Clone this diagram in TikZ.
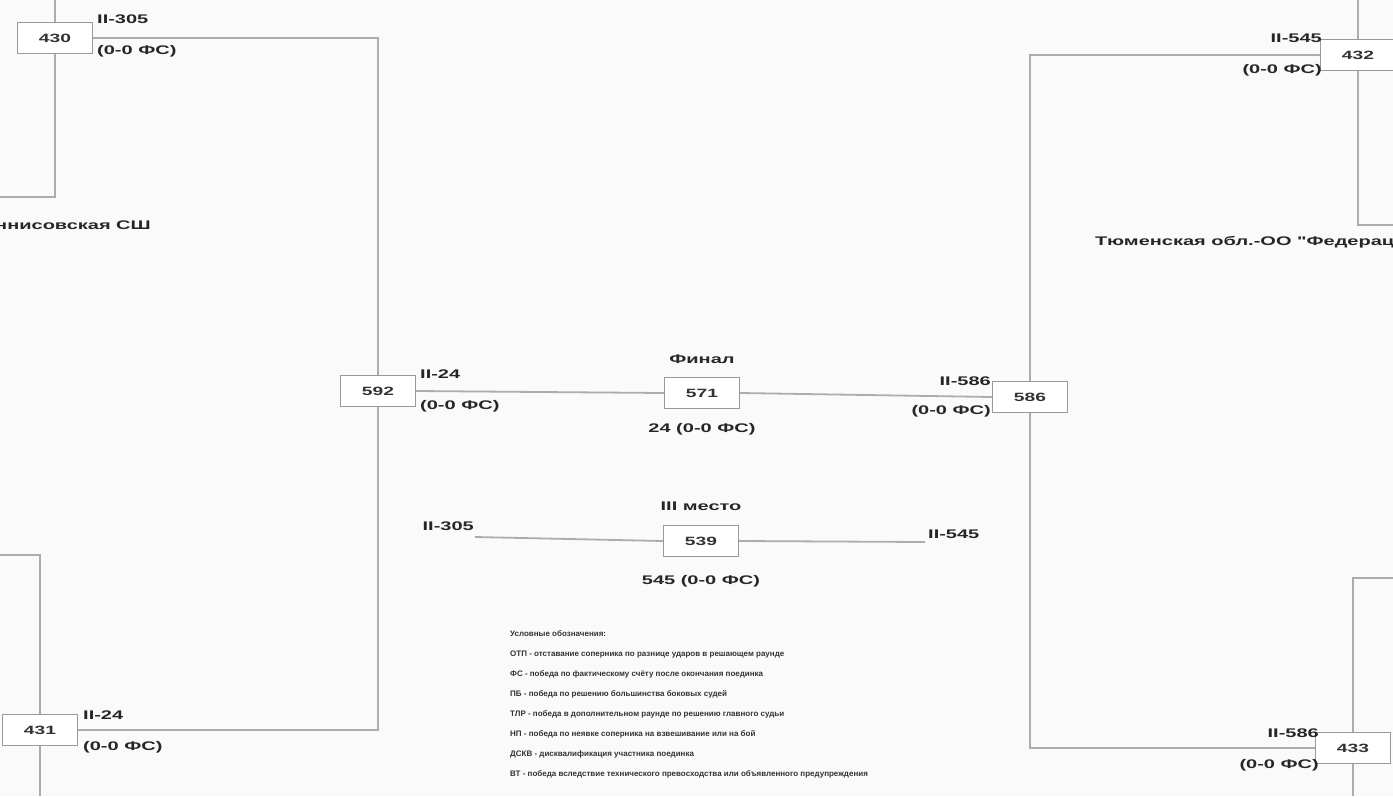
\documentclass[tikz,border=0pt]{standalone}
\usepackage{fontspec}
\setmainfont{Liberation Sans}
\newfontfamily\widefont[FakeStretch=1.6]{Liberation Sans}
\usetikzlibrary{positioning}
\tikzset{box/.style={draw=gray!80,line width=1.2pt,fill=white,minimum width=75pt,
                     minimum height=31pt,inner sep=0pt,font=\widefont\bfseries\fontsize{12}{14}\selectfont,text=black!80},
         wire/.style={draw=gray!65,line width=1.8pt},
         lbl/.style={inner sep=1pt,font=\widefont\bfseries\fontsize{12.5}{14}\selectfont,text=black!85},
         team/.style={inner sep=1pt,font=\widefont\bfseries\fontsize{12.5}{14}\selectfont,text=black!85}}

\begin{document}
\begin{tikzpicture}[x=1pt,y=-1pt]
\fill[gray!4] (0,0) rectangle (1393,796);
\useasboundingbox (0,0) rectangle (1393,796);
% matches
\node[box] (b430) at (55,38) {430};
\node[box] (b431) at (40,730) {431};
\node[box] (b592) at (378,391) {592};
\node[box] (b571) at (702,393) {571};
\node[box] (b539) at (701,541) {539};
\node[box] (b586) at (1030,397) {586};
\node[box] (b432) at (1358,55) {432};
\node[box] (b433) at (1353,748) {433};
% free ends
\coordinate (t430) at (55,0);
\coordinate (k430) at (55,197);
\coordinate (e430) at (0,197);
\coordinate (t431) at (40,555);
\coordinate (e431) at (0,555);
\coordinate (d431) at (40,796);
\coordinate (t432) at (1358,0);
\coordinate (k432) at (1358,225);
\coordinate (e432) at (1393,225);
\coordinate (t433) at (1353,578);
\coordinate (e433) at (1393,578);
\coordinate (d433) at (1353,796);
\coordinate (c305) at (475,537);
\coordinate (c545) at (925,542);
% connectors
\draw[wire] (t430) -- (b430.north);
\draw[wire] (b430.south) -- (k430) -- (e430);
\draw[wire] (e431) -- (t431) -- (b431.north);
\draw[wire] (b431.south) -- (d431);
\draw[wire] (t432) -- (b432.north);
\draw[wire] (b432.south) -- (k432) -- (e432);
\draw[wire] (e433) -- (t433) -- (b433.north);
\draw[wire] (b433.south) -- (d433);
\draw[wire] (b430.east) -| (b592.north);
\draw[wire] (b431.east) -| (b592.south);
\draw[wire] (b432.west) -| (b586.north);
\draw[wire] (b433.west) -| (b586.south);
\draw[wire] (b592.east) -- (b571.west);
\draw[wire] (b571.east) -- (b586.west);
\draw[wire] (c305) -- (b539.west);
\draw[wire] (b539.east) -- (c545);
% redraw boxes on top
\foreach \b/\t in {b430/430,b431/431,b592/592,b571/571,b539/539,b586/586,b432/432,b433/433}
  \node[box] at (\b) {\t};
% results
\node[lbl,anchor=west] (r430a) at (96,19) {II-305};
\node[lbl,anchor=west] (r430b) at (96,51) {(0-0 ФС)};
\node[lbl,anchor=west] (r431a) at (82,715) {II-24};
\node[lbl,anchor=west] (r431b) at (82,747) {(0-0 ФС)};
\node[lbl,anchor=west] (r592a) at (419,374) {II-24};
\node[lbl,anchor=west] (r592b) at (419,406) {(0-0 ФС)};
\node[lbl,anchor=east] (r586a) at (992,381) {II-586};
\node[lbl,anchor=east] (r586b) at (992,411) {(0-0 ФС)};
\node[lbl,anchor=east] (r432a) at (1323,38) {II-545};
\node[lbl,anchor=east] (r432b) at (1323,70) {(0-0 ФС)};
\node[lbl,anchor=east] (r433a) at (1320,733) {II-586};
\node[lbl,anchor=east] (r433b) at (1320,765) {(0-0 ФС)};
\node[lbl] (fin) [above=12pt of b571] {Финал};
\node[lbl] (fres) [below=13pt of b571] {24 (0-0 ФС)};
\node[lbl] (third) [above=13pt of b539] {III место};
\node[lbl] (tres) [below=17pt of b539] {545 (0-0 ФС)};
\node[lbl,anchor=south east] (n305) at ([yshift=5pt]c305) {II-305};
\node[lbl,anchor=south west] (n545) at ([xshift=2pt,yshift=2pt]c545) {II-545};
% teams
\node[team,anchor=east] (club1) at (152,225) {Тиннисовская СШ};
\node[team,anchor=west] (club2) at (1094,242) {Тюменская обл.-ОО "Федерация"};
% legend
\node[anchor=north west,align=left,inner sep=0pt,text=black!80,
      font=\bfseries\fontsize{8}{20.1}\selectfont] (legend) at (510,630)
  {Условные обозначения:\\
   ОТП - отставание соперника по разнице ударов в решающем раунде\\
   ФС - победа по фактическому счёту после окончания поединка\\
   ПБ - победа по решению большинства боковых судей\\
   ТЛР - победа в дополнительном раунде по решению главного судьи\\
   НП - победа по неявке соперника на взвешивание или на бой\\
   ДСКВ - дисквалификация участника поединка\\
   ВТ - победа вследствие технического превосходства или объявленного предупреждения};
\end{tikzpicture}
\end{document}
